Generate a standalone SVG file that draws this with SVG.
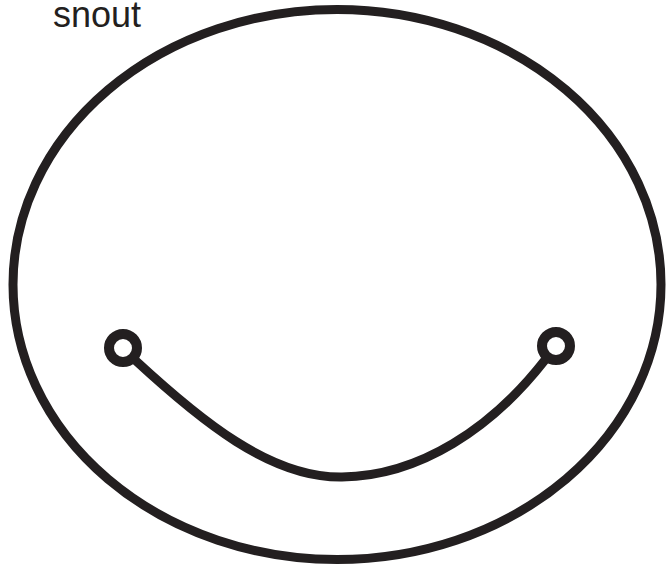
<svg xmlns="http://www.w3.org/2000/svg" width="670" height="571" viewBox="0 0 670 571">
<style>
.ln{fill:none;stroke:#231f20;stroke-width:9;stroke-linecap:round}
.nd{fill:#fff;stroke:#231f20;stroke-width:10}
.lbl{font-family:"Liberation Sans",Arial,sans-serif;font-size:36px;fill:#231f20}
</style>
<rect width="670" height="571" fill="#fff"/>
<g id="snout">
<ellipse class="ln" cx="337" cy="284.5" rx="324" ry="275"/>
</g>
<g id="connectors">
<path class="ln" d="M135,360 C200,420 270,478 342,477 C420,476 492,428 545,360"/>
</g>
<g id="left-node"><circle class="nd" cx="123" cy="348" r="14"/></g>
<g id="right-node"><circle class="nd" cx="556" cy="346" r="14"/></g>
<text class="lbl" x="53" y="27">snout</text>
</svg>
